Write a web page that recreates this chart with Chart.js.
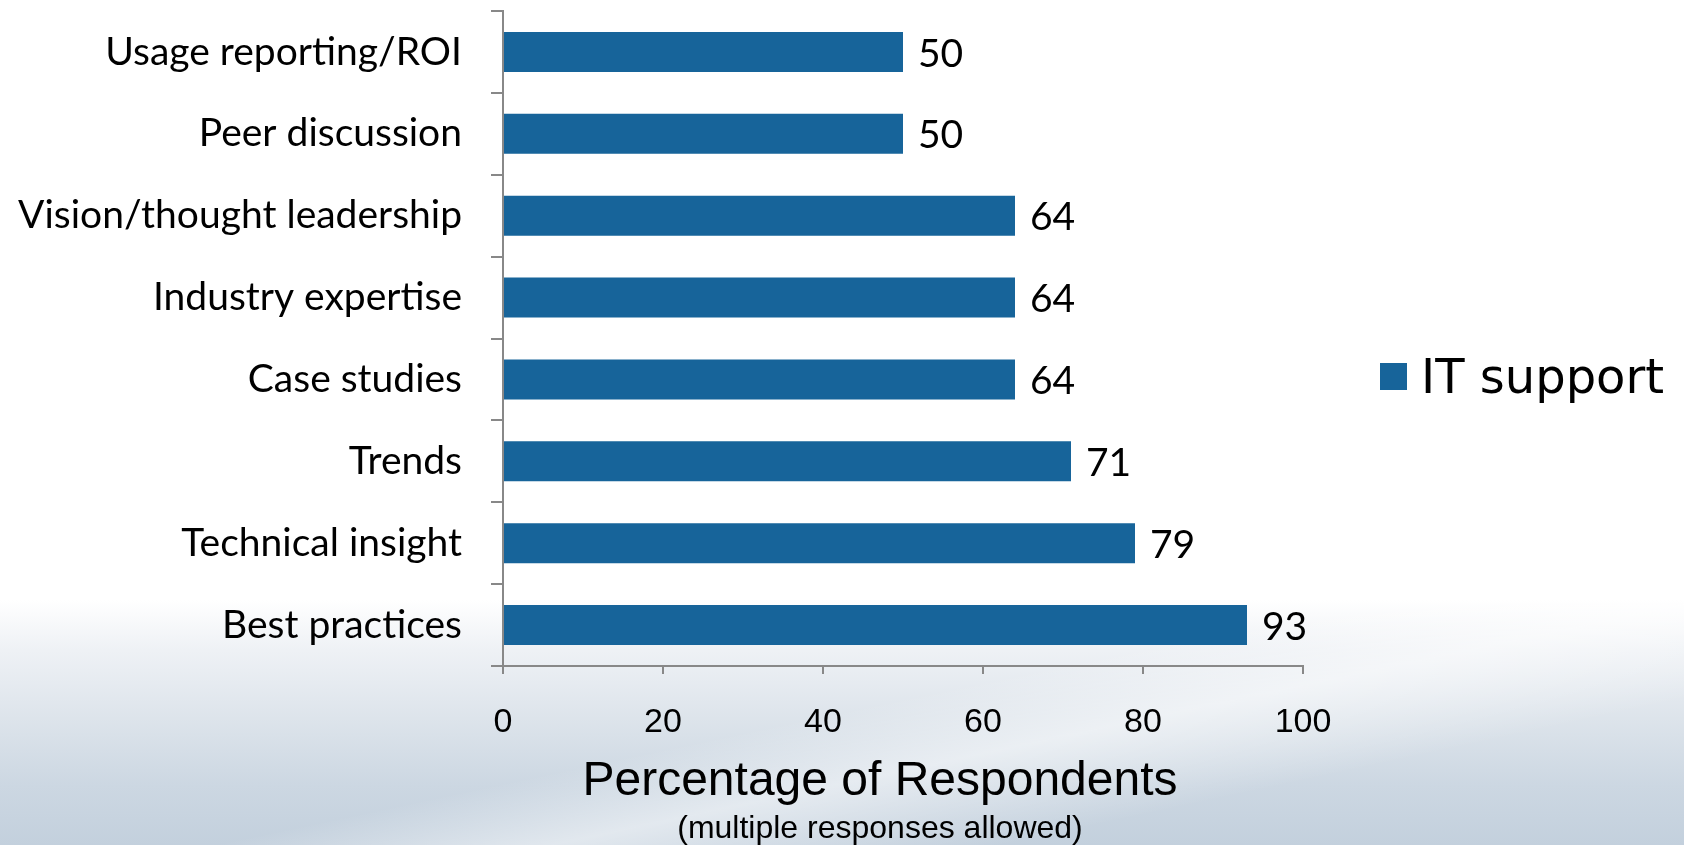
<!DOCTYPE html>
<html>
<head>
<meta charset="utf-8">
<script src="https://cdn.jsdelivr.net/npm/chart.js@4/dist/chart.umd.min.js"></script>
<style>
  html, body { margin: 0; padding: 0; }
  body {
    width: 1684px; height: 845px; overflow: hidden;
    background:
      linear-gradient(168deg, rgba(255,255,255,0) 0%, rgba(255,255,255,0) 74%, rgba(255,255,255,0.5) 80%, rgba(255,255,255,0) 88%),
      linear-gradient(to bottom, #ffffff 0%, #ffffff 71%, #eef1f5 77%, #dde4eb 85%, #ccd7e2 93%, #c3d0dd 100%);
  }
  #wrap { position: absolute; left: 0; top: 0; width: 1684px; height: 845px; }
</style>
</head>
<body>
<div id="wrap"><canvas id="graf"></canvas></div>
<script>
// categorias (de cima para baixo)
var categorias = ['Usage reporting/ROI', 'Peer discussion', 'Vision/thought leadership',
    'Industry expertise', 'Case studies', 'Trends', 'Technical insight', 'Best practices'];
// valores em %
var it_support = [50, 50, 64, 64, 64, 71, 79, 93];
var ticks_x = [0, 20, 40, 60, 80, 100];
var titulo_x = 'Percentage of Respondents';
var subtitulo_x = '(multiple responses allowed)';

var azul = '#17649a';

// rotulos de valor ao lado das barras
var rotulos = {
    id: 'rotulos',
    afterDatasetsDraw: function (chart) {
        var ctx = chart.ctx;
        var meta = chart.getDatasetMeta(0);
        ctx.save();
        ctx.fillStyle = '#000';
        ctx.font = '39px Lato';
        ctx.textBaseline = 'middle';
        ctx.textAlign = 'left';
        meta.data.forEach(function (bar, i) {
            ctx.fillText(chart.data.datasets[0].data[i], bar.x + 15, bar.y + 2);
        });
        ctx.restore();
    }
};

// legenda e titulo do eixo
var extras = {
    id: 'extras',
    afterDraw: function (chart) {
        var ctx = chart.ctx;
        ctx.save();
        var ds = chart.data.datasets[0];
        ctx.fillStyle = ds.backgroundColor;
        ctx.fillRect(1380, 363, 27, 27);
        ctx.fillStyle = '#000';
        ctx.font = '48px "DejaVu Sans"';
        ctx.textBaseline = 'alphabetic';
        ctx.textAlign = 'left';
        ctx.fillText(ds.label, 1421, 393);

        ctx.textAlign = 'center';
        ctx.textBaseline = 'middle';
        ctx.font = '48px "Liberation Sans"';
        ctx.fillText(titulo_x, 880, 782);
        ctx.font = '32px "Liberation Sans"';
        ctx.fillText(subtitulo_x, 880, 829);
        ctx.restore();
    }
};

var graf = new Chart(document.getElementById('graf'), {
    type: 'bar',
    data: {
        labels: categorias,
        datasets: [{
            label: 'IT support',
            data: it_support,
            backgroundColor: azul,
            borderColor: azul,
            categoryPercentage: 0.49,
            barPercentage: 1
        }]
    },
    options: {
        indexAxis: 'y',
        responsive: true,
        maintainAspectRatio: false,
        animation: false,
        layout: { padding: { top: 11, right: 381, left: 0, bottom: 0 } },
        plugins: {
            legend: { display: false },
            tooltip: { enabled: false }
        },
        scales: {
            x: {
                min: 0, max: 100,
                afterBuildTicks: function (scale) {
                    scale.ticks = ticks_x.map(function (v) { return { value: v }; });
                },
                afterFit: function (scale) {
                    scale.height = 179;
                    scale.paddingLeft = 0; scale.paddingRight = 0;
                },
                border: { color: '#888', width: 2 },
                grid: { drawOnChartArea: false, color: '#888', lineWidth: 2, tickLength: 8 },
                ticks: {
                    color: '#000',
                    padding: 28,
                    maxRotation: 0,
                    font: { family: '"Liberation Sans"', size: 34 }
                }
            },
            y: {
                afterFit: function (scale) {
                    scale.width = 503;
                    scale.paddingTop = 0; scale.paddingBottom = 0;
                },
                border: { color: '#888', width: 2 },
                grid: { drawOnChartArea: false, color: '#888', lineWidth: 2, tickLength: 12, offset: true },
                ticks: {
                    color: '#000',
                    padding: 29,
                    font: { family: 'Lato', size: 39 }
                }
            }
        }
    },
    plugins: [rotulos, extras]
});
</script>
</body>
</html>
